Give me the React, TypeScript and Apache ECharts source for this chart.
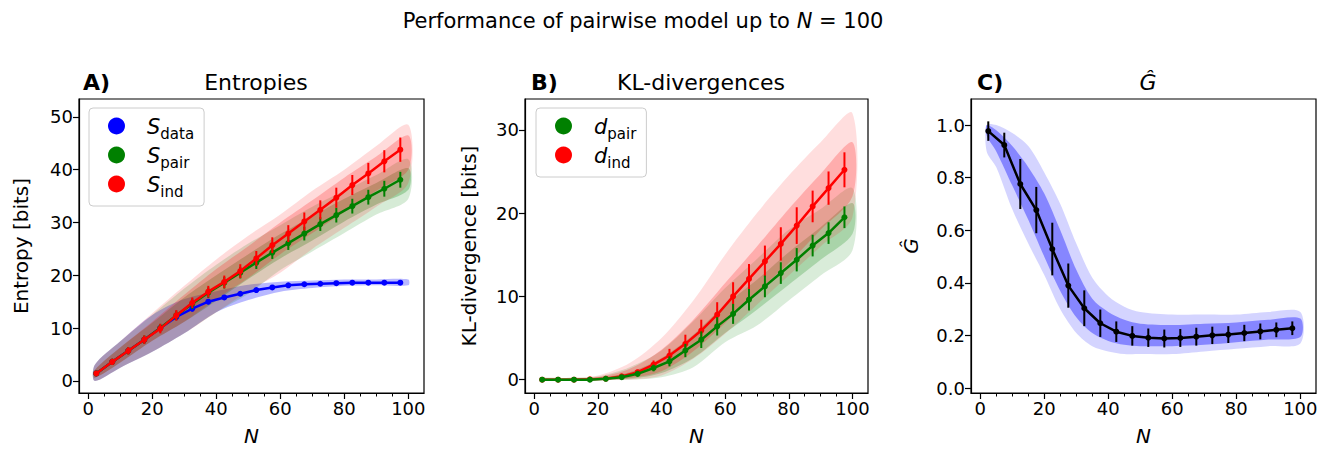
import React, { useEffect, useRef } from "react";
import * as echarts from "echarts";

// ---------- data ----------
const BINS = [2.5, 7.5, 12.5, 17.5, 22.5, 27.5, 32.5, 37.5, 42.5, 47.5, 52.5, 57.5, 62.5, 67.5, 72.5, 77.5, 82.5, 87.5, 92.5, 97.5];

// Panel A – entropies (bin means and error bars)
const S_DATA = [1.4, 3.6, 5.7, 7.8, 10.0, 12.1, 13.7, 15.0, 15.8, 16.5, 17.2, 17.7, 18.1, 18.3, 18.4, 18.5, 18.6, 18.6, 18.6, 18.6];
const S_DATA_ERR = [0.5, 0.5, 0.6, 0.6, 0.6, 0.6, 0.6, 0.5, 0.4, 0.4, 0.3, 0.3, 0.3, 0.2, 0.2, 0.2, 0.2, 0.2, 0.2, 0.2];
const S_PAIR = [1.4, 3.6, 5.7, 7.8, 10.0, 12.4, 14.6, 16.7, 18.6, 20.5, 22.4, 24.3, 26.1, 27.9, 29.7, 31.4, 33.1, 34.8, 36.4, 38.1];
const S_PAIR_ERR = [0.5, 0.6, 0.7, 0.8, 0.8, 0.9, 1.0, 1.0, 1.1, 1.1, 1.2, 1.2, 1.3, 1.3, 1.3, 1.4, 1.4, 1.4, 1.5, 1.5];
const S_IND = [1.4, 3.6, 5.7, 7.8, 9.9, 12.4, 14.8, 16.9, 18.75, 20.8, 23.2, 25.7, 27.9, 30.2, 32.4, 34.7, 37.1, 39.3, 41.6, 43.8];
const S_IND_ERR = [0.5, 0.6, 0.7, 0.8, 0.9, 1.0, 1.0, 1.1, 1.2, 1.3, 1.4, 1.5, 1.6, 1.7, 1.8, 1.9, 1.9, 2.0, 2.1, 2.3];

// Panel A – sample clouds (outer envelopes and dense cores)
const CLOUD_A_X = [2, 10, 20, 30, 40, 50, 60, 70, 80, 90, 100];
const CLOUD_A_DATA_HI = [3, 7.5, 12.5, 15.5, 17, 18.2, 18.8, 19, 19.2, 19.2, 19.2];
const CLOUD_A_DATA_LO = [0, 2.5, 5.5, 9, 13, 15.3, 16.9, 17.6, 18, 18.1, 18.1];
const CLOUD_A_PAIR_HI = [3, 7.5, 12.5, 17.5, 22, 26, 29.5, 33, 36, 39, 42];
const CLOUD_A_PAIR_LO = [0, 2.5, 5.5, 9, 13, 16.5, 21, 24.5, 28, 31.5, 34.5];
const CLOUD_A_IND_HI = [3, 7.5, 12.8, 18, 23, 27.5, 31.5, 36, 40, 44.5, 48.5];
const CLOUD_A_IND_LO = [0, 2.5, 5.5, 9, 13, 17, 20.5, 25, 29, 33, 37.5];
const CORE_A_PAIR_HI = [2, 6.3, 11, 15.8, 20, 24, 27.8, 31.2, 34.5, 37.5, 40.3];
const CORE_A_PAIR_LO = [0.6, 3.5, 7.6, 11.2, 15.2, 19.3, 23.2, 26.6, 30.2, 33.4, 36.2];
const CORE_A_IND_HI = [2, 6.3, 11.2, 16.3, 21.2, 25.5, 30, 34.2, 38.5, 42.5, 46.5];
const CORE_A_IND_LO = [0.6, 3.5, 7.6, 11.2, 15.5, 19.5, 24, 28, 32, 36, 40];

// Panel B – KL divergences
const D_PAIR = [0, 0, 0, 0, 0.1, 0.3, 0.7, 1.4, 2.2, 3.5, 4.8, 6.4, 7.9, 9.6, 11.2, 12.8, 14.4, 16.1, 17.6, 19.5];
const D_PAIR_ERR = [0.05, 0.05, 0.05, 0.05, 0.1, 0.15, 0.2, 0.4, 0.6, 0.8, 1.0, 1.1, 1.2, 1.3, 1.3, 1.3, 1.4, 1.3, 1.3, 1.3];
const D_IND = [0, 0, 0, 0.05, 0.12, 0.4, 0.9, 1.8, 2.9, 4.3, 5.9, 7.8, 10.0, 12.1, 14.2, 16.3, 18.5, 20.8, 23.0, 25.2];
const D_IND_ERR = [0.05, 0.05, 0.05, 0.05, 0.1, 0.2, 0.3, 0.5, 0.8, 1.1, 1.3, 1.5, 1.7, 1.8, 1.9, 2.0, 2.2, 1.9, 2.0, 2.1];

const CLOUD_B_X = [2, 10, 20, 30, 40, 50, 60, 70, 80, 90, 100];
const CLOUD_B_PAIR_HI = [0.2, 0.2, 0.4, 1.5, 3.5, 7, 11, 14.5, 18, 20.5, 23];
const CLOUD_B_PAIR_LO = [0, 0, 0, 0, 0.3, 1.5, 4.5, 6.5, 9.5, 12.5, 15.5];
const CLOUD_B_IND_HI = [0.2, 0.2, 0.5, 2, 5, 9.5, 15, 20, 24.5, 28.5, 32];
const CLOUD_B_IND_LO = [0, 0, 0, 0, 0.5, 2.5, 5.5, 9, 12.5, 16, 19.5];
const CORE_B_PAIR_HI = [0.1, 0.1, 0.25, 0.9, 2.6, 5.4, 9, 12, 15.3, 18.3, 21.2];
const CORE_B_PAIR_LO = [0, 0, 0, 0.1, 0.8, 2.6, 5.6, 8.4, 11.4, 14.4, 17.5];
const CORE_B_IND_HI = [0.1, 0.1, 0.3, 1.3, 3.6, 7.2, 11.6, 16, 20.5, 24.7, 28.5];
const CORE_B_IND_LO = [0, 0, 0, 0.2, 1.0, 3.4, 6.8, 10.5, 14, 18, 22];

// Panel C – G hat
const G_HAT = [0.977, 0.924, 0.776, 0.677, 0.529, 0.39, 0.304, 0.247, 0.215, 0.199, 0.192, 0.189, 0.191, 0.196, 0.201, 0.204, 0.21, 0.216, 0.222, 0.228];
const G_HAT_ERR = [0.037, 0.047, 0.095, 0.088, 0.1, 0.084, 0.068, 0.052, 0.039, 0.037, 0.035, 0.034, 0.034, 0.034, 0.033, 0.032, 0.031, 0.03, 0.028, 0.026];
const CLOUD_C_X = [2, 5, 10, 15, 20, 25, 30, 35, 40, 45, 50, 60, 70, 80, 90, 100];
const CLOUD_C_HI = [1.0, 1.0, 0.97, 0.92, 0.82, 0.7, 0.55, 0.42, 0.35, 0.31, 0.29, 0.28, 0.28, 0.28, 0.29, 0.29];
const CLOUD_C_LO = [0.9, 0.84, 0.68, 0.55, 0.43, 0.3, 0.21, 0.16, 0.14, 0.13, 0.13, 0.13, 0.14, 0.15, 0.16, 0.17];
const CORE_C_HI = [1.0, 0.98, 0.92, 0.84, 0.74, 0.6, 0.45, 0.34, 0.29, 0.26, 0.245, 0.24, 0.245, 0.25, 0.26, 0.265];
const CORE_C_LO = [0.96, 0.9, 0.77, 0.64, 0.5, 0.37, 0.27, 0.21, 0.18, 0.165, 0.16, 0.16, 0.165, 0.175, 0.185, 0.195];

const X_TICKS = [0, 20, 40, 60, 80, 100];
const X_MINOR_TICKS = [5, 10, 15, 25, 30, 35, 45, 50, 55, 65, 70, 75, 85, 90, 95];
const Y_TICKS_A = [0, 10, 20, 30, 40, 50];
const Y_TICKS_B = [0, 10, 20, 30];
const Y_TICKS_C = [0, 0.2, 0.4, 0.6, 0.8, 1.0];

// ---------- styling ----------
const FONT = "DejaVu Sans";
const BLUE = "#0000ff";
const GREEN = "#008000";
const RED = "#ff0000";

function band(g: number, xs: number[], lo: number[], hi: number[], fill: string) {
  return {
    type: "custom",
    xAxisIndex: g,
    yAxisIndex: g,
    silent: true,
    clip: true,
    z: 1,
    data: xs.map((x, i) => [x, lo[i], hi[i]]),
    encode: { x: 0, y: [1, 2] },
    renderItem: (params: any, api: any) => {
      if (params.dataIndex !== 0) return null;
      const pts: number[][] = [];
      for (let i = 0; i < xs.length; i++) pts.push(api.coord([xs[i], hi[i]]));
      for (let i = xs.length - 1; i >= 0; i--) pts.push(api.coord([xs[i], lo[i]]));
      return { type: "polygon", shape: { points: pts, smooth: 0.3 }, style: { fill } };
    },
  };
}

function errBars(g: number, means: number[], errs: number[], color: string, z: number) {
  return {
    type: "custom",
    xAxisIndex: g,
    yAxisIndex: g,
    silent: true,
    clip: true,
    z,
    data: BINS.map((x, i) => [x, means[i], errs[i]]),
    encode: { x: 0, y: 1 },
    renderItem: (_p: any, api: any) => {
      const x = api.value(0);
      const m = api.value(1);
      const e = api.value(2);
      const a = api.coord([x, m - e]);
      const b = api.coord([x, m + e]);
      return {
        type: "line",
        shape: { x1: a[0], y1: a[1], x2: b[0], y2: b[1] },
        style: { stroke: color, lineWidth: 2 },
      };
    },
  };
}

function meanLine(g: number, name: string, means: number[], color: string, z: number) {
  return {
    type: "line",
    name,
    xAxisIndex: g,
    yAxisIndex: g,
    z,
    data: BINS.map((x, i) => [x, means[i]]),
    symbol: "circle",
    symbolSize: 6,
    itemStyle: { color },
    lineStyle: { color, width: 2.5 },
    silent: true,
  };
}

const GRIDS = [
  { left: 79, top: 99, width: 345, height: 294 },
  { left: 525, top: 99, width: 343, height: 294 },
  { left: 971, top: 99, width: 345, height: 294 },
];

// main x axis: labels and long ticks at the majors
function majorX(g: number) {
  return {
    type: "value",
    gridIndex: g,
    min: -2.9,
    max: 104.9,
    name: "N",
    nameLocation: "middle",
    nameGap: 33,
    nameTextStyle: { fontFamily: FONT, fontSize: 20, fontStyle: "italic", color: "#000" },
    axisLine: { show: true, onZero: false, lineStyle: { color: "#000", width: 1.2 } },
    axisTick: { show: true, length: 6, customValues: X_TICKS, lineStyle: { color: "#000", width: 1.2 } },
    axisLabel: { customValues: X_TICKS, fontFamily: FONT, fontSize: 18, color: "#000", margin: 6 },
    splitLine: { show: false },
  };
}
// companion axis sitting on the bottom edge (zero of a hidden helper y axis): minor ticks
function minorX(g: number) {
  return {
    type: "value",
    gridIndex: g,
    min: -2.9,
    max: 104.9,
    axisLine: { show: false, onZero: true, onZeroAxisIndex: 3 + g },
    axisTick: { show: true, inside: true, length: 3.5, customValues: X_MINOR_TICKS, lineStyle: { color: "#000", width: 1 } },
    axisLabel: { show: false },
    splitLine: { show: false },
  };
}
function helperY(g: number) {
  return {
    type: "value",
    gridIndex: g,
    min: 0,
    max: 1,
    axisLine: { show: false },
    axisTick: { show: false },
    axisLabel: { show: false },
    splitLine: { show: false },
  };
}
function yAx(g: number, min: number, max: number, ticks: number[], name: string, nameGap: number, italic: boolean, fmt?: (v: number) => string) {
  return {
    type: "value",
    gridIndex: g,
    min,
    max,
    name,
    nameLocation: "middle",
    nameGap,
    nameRotate: 90,
    nameTextStyle: { fontFamily: FONT, fontSize: 20, fontStyle: italic ? "italic" : "normal", color: "#000" },
    axisLine: { show: true, onZero: false, lineStyle: { color: "#000", width: 1.2 } },
    axisTick: { show: true, length: 6, customValues: ticks, lineStyle: { color: "#000", width: 1.2 } },
    axisLabel: { customValues: ticks, fontFamily: FONT, fontSize: 18, color: "#000", margin: 6, formatter: fmt },
    splitLine: { show: false },
  };
}

const legendRich = {
  s: { fontFamily: FONT, fontSize: 21, fontStyle: "italic", color: "#000", lineHeight: 22, verticalAlign: "bottom" },
  sub: { fontFamily: FONT, fontSize: 15, color: "#000", lineHeight: 22, verticalAlign: "bottom", padding: [0, 0, -4, 0] },
};
const LEGEND_LABELS: Record<string, string> = {
  S_data: "{s|S}{sub|data}",
  S_pair: "{s|S}{sub|pair}",
  S_ind: "{s|S}{sub|ind}",
  d_pair: "{s|d}{sub|pair}",
  d_ind: "{s|d}{sub|ind}",
};

function legend(left: number, top: number, names: string[]) {
  return {
    left,
    top,
    orient: "vertical",
    data: names.map((n) => ({ name: n, icon: "circle" })),
    itemWidth: 17,
    itemHeight: 17,
    itemGap: 4,
    padding: [8, 10, 7, 19],
    backgroundColor: "#fff",
    borderColor: "#ccc",
    borderWidth: 1,
    borderRadius: 4,
    selectedMode: false,
    formatter: (n: string) => LEGEND_LABELS[n],
    textStyle: { padding: [0, 0, 0, 17], rich: legendRich },
  };
}

function titleItem(text: string, left: number, bold: boolean, align: string = "left", italic = false) {
  return {
    text,
    left,
    top: 66,
    textAlign: align,
    textStyle: { fontFamily: FONT, fontSize: 22, fontWeight: bold ? "bold" : "normal", fontStyle: italic ? "italic" : "normal", color: "#000" },
  };
}

export default function App() {
  const ref = useRef<HTMLDivElement>(null);
  useEffect(() => {
    if (!ref.current) return;
    const chart = echarts.init(ref.current, undefined, { renderer: "svg" });
    const option: any = {
      animation: false,
      backgroundColor: "#fff",
      title: [
        {
          text: "{a|Performance of pairwise model up to }{i|N}{a| = 100}",
          left: 638,
          top: 5,
          textAlign: "center",
          textStyle: {
            fontWeight: "normal",
            rich: {
              a: { fontFamily: FONT, fontSize: 21, fontWeight: "normal", color: "#000" },
              i: { fontFamily: FONT, fontSize: 21, fontWeight: "normal", fontStyle: "italic", color: "#000" },
            },
          },
        },
        titleItem("A)", 78, true),
        titleItem("Entropies", 251, false, "center"),
        titleItem("B)", 526, true),
        titleItem("KL-divergences", 696, false, "center"),
        titleItem("C)", 972, true),
        titleItem("Ĝ", 1143, false, "center", true),
      ],
      legend: [
        legend(89, 108, ["S_data", "S_pair", "S_ind"]),
        legend(536, 108, ["d_pair", "d_ind"]),
      ],
      grid: GRIDS.map((g) => ({ ...g, show: true, borderColor: "#000", borderWidth: 1.2, backgroundColor: "transparent" })),
      xAxis: [majorX(0), majorX(1), majorX(2), minorX(0), minorX(1), minorX(2)],
      yAxis: [
        yAx(0, -2.3, 53.4, Y_TICKS_A, "Entropy [bits]", 48, false),
        yAx(1, -1.6, 33.7, Y_TICKS_B, "KL-divergence [bits]", 46, false),
        yAx(2, -0.018, 1.099, Y_TICKS_C, "Ĝ", 50, true, (v: number) => v.toFixed(1)),
        helperY(0),
        helperY(1),
        helperY(2),
      ],
      series: [
        // panel A
        band(0, CLOUD_A_X, CLOUD_A_DATA_LO, CLOUD_A_DATA_HI, "rgba(0,0,255,0.28)"),
        band(0, CLOUD_A_X, CLOUD_A_PAIR_LO, CLOUD_A_PAIR_HI, "rgba(0,128,0,0.16)"),
        band(0, CLOUD_A_X, CORE_A_PAIR_LO, CORE_A_PAIR_HI, "rgba(0,128,0,0.25)"),
        band(0, CLOUD_A_X, CLOUD_A_IND_LO, CLOUD_A_IND_HI, "rgba(255,0,0,0.14)"),
        band(0, CLOUD_A_X, CORE_A_IND_LO, CORE_A_IND_HI, "rgba(255,0,0,0.22)"),
        errBars(0, S_DATA, S_DATA_ERR, BLUE, 3),
        meanLine(0, "S_data", S_DATA, BLUE, 4),
        errBars(0, S_PAIR, S_PAIR_ERR, GREEN, 5),
        meanLine(0, "S_pair", S_PAIR, GREEN, 6),
        errBars(0, S_IND, S_IND_ERR, RED, 7),
        meanLine(0, "S_ind", S_IND, RED, 8),
        // panel B
        band(1, CLOUD_B_X, CLOUD_B_PAIR_LO, CLOUD_B_PAIR_HI, "rgba(0,128,0,0.15)"),
        band(1, CLOUD_B_X, CORE_B_PAIR_LO, CORE_B_PAIR_HI, "rgba(0,128,0,0.22)"),
        band(1, CLOUD_B_X, CLOUD_B_IND_LO, CLOUD_B_IND_HI, "rgba(255,0,0,0.13)"),
        band(1, CLOUD_B_X, CORE_B_IND_LO, CORE_B_IND_HI, "rgba(255,0,0,0.22)"),
        errBars(1, D_IND, D_IND_ERR, RED, 5),
        meanLine(1, "d_ind", D_IND, RED, 6),
        errBars(1, D_PAIR, D_PAIR_ERR, GREEN, 7),
        meanLine(1, "d_pair", D_PAIR, GREEN, 8),
        // panel C
        band(2, CLOUD_C_X, CLOUD_C_LO, CLOUD_C_HI, "rgba(60,60,255,0.22)"),
        band(2, CLOUD_C_X, CORE_C_LO, CORE_C_HI, "rgba(40,40,255,0.45)"),
        errBars(2, G_HAT, G_HAT_ERR, "#000", 5),
        meanLine(2, "G_hat", G_HAT, "#000", 6),
      ],
    };
    chart.setOption(option);
    return () => chart.dispose();
  }, []);
  return (
    <div
      ref={ref}
      style={{ position: "fixed", left: 0, top: 0, width: 1334, height: 451, background: "#fff" }}
    />
  );
}
